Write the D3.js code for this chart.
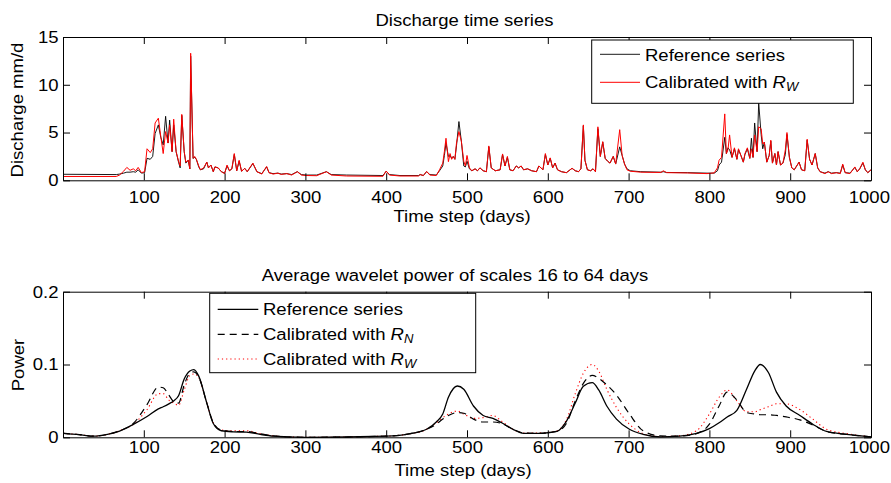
<!DOCTYPE html>
<html>
<head>
<meta charset="utf-8">
<script src="https://cdn.jsdelivr.net/npm/d3@7"></script>
<style>
  body { margin: 0; background: #fff; }
  svg { font-family: "Liberation Sans", Arial, sans-serif; }
</style>
</head>
<body>
<div id="chart"></div>
<script>
// discharge series (mm/d)
var qDays = [0, 66, 70, 75, 79, 83, 87, 90, 93, 97,
  101, 104, 108, 111, 114, 118, 121, 124, 127, 130,
  132, 135, 137, 140, 143, 145, 147, 150, 152, 155,
  157, 158, 161, 163, 165, 168, 170, 174, 178, 180,
  183, 186, 188, 192, 196, 200, 203, 206, 209, 212,
  215, 218, 221, 225, 228, 235, 240, 246, 252, 255,
  260, 266, 270, 277, 283, 290, 295, 301, 314, 326,
  332, 351, 396, 400, 404, 417, 440, 442, 446, 450,
  454, 462, 466, 470, 472, 474, 477, 479, 481, 483,
  485, 487, 490, 493, 496, 498, 500, 503, 506, 510,
  513, 516, 520, 524, 527, 530, 535, 541, 544, 547,
  550, 553, 557, 561, 564, 567, 570, 575, 580, 586,
  589, 594, 597, 600, 603, 606, 609, 612, 617, 623,
  630, 634, 638, 641, 644, 646, 649, 653, 656, 659,
  662, 665, 668, 671, 674, 677, 681, 684, 689, 692,
  695, 698, 702, 715, 740, 743, 747, 773, 797, 806,
  810, 812, 815, 819, 821, 823, 825, 828, 831, 834,
  836, 839, 842, 844, 847, 850, 852, 854, 856, 859,
  861, 864, 866, 868, 871, 874, 876, 878, 881, 883,
  885, 888, 891, 894, 896, 899, 902, 905, 911, 914,
  918, 921, 924, 927, 931, 934, 937, 943, 947, 951,
  957, 962, 965, 968, 974, 980, 983, 986, 990, 993,
  996, 1000];

var qRef = [.63, .60, .65, .75, .85, .85, .9, .85, 1.1, .75,
  .8, 2.3, 2.2, 2.5, 4.9, 5.8, 4.5, 3.7, 6.7, 3.9,
  6.3, 3.0, 5.8, 3.0, 1.9, 1.3, 6.8, 3.0, 1.8, 2.1,
  1.2, 13.0, 2.3, 2.4, 2.2, 1.4, 1.1, 1.2, 1.9, 1.3,
  1.6, .9, 1.4, 1.3, .9, .75, 1.5, 1.0, 1.2, 2.7,
  1.0, 2.0, .95, 1.25, .9, 1.75, .9, .7, 1.4, .8,
  .7, .75, .65, .7, .6, .9, .6, .55, .55, .9,
  .6, .55, .5, .95, .6, .5, .5, .6, .5, .9,
  .6, .55, 1.0, 1.5, 2.6, 3.9, 2.5, 2.6, 2.3, 2.5,
  2.2, 3.6, 6.15, 4.1, 1.5, 1.4, 2.0, 1.2, 1.0, 1.2,
  1.0, 1.3, 1.0, .9, 3.5, 1.3, 1.0, 1.1, 2.7, 1.5,
  2.4, 1.1, 1.0, 1.5, 1.3, 1.5, 1.1, 1.2, 1.0, .9,
  1.5, 1.1, 2.7, 1.6, 2.3, 1.3, 1.8, 1.1, .9, .8,
  1.25, 1.0, .9, 1.2, 5.7, 2.1, 1.1, 1.0, 1.2, .9,
  5.4, 2.5, 4.0, 2.3, 2.0, 1.8, 2.5, 1.7, 3.5, 2.6,
  1.7, 1.2, 1.0, .9, .85, .9, .82, .8, .75, .75,
  1.0, 1.6, 1.9, 4.5, 2.8, 3.4, 3.2, 2.4, 3.3, 2.2,
  3.2, 2.6, 1.9, 2.7, 3.3, 2.3, 4.4, 2.4, 6.0, 3.0,
  8.1, 4.8, 3.3, 4.0, 1.9, 2.6, 4.1, 1.8, 2.8, 1.6,
  3.0, 1.6, 1.8, 2.7, 4.8, 2.4, 1.3, 1.1, 1.9, 1.1,
  1.0, 4.2, 2.2, 1.6, 2.8, 1.3, .9, .75, .9, .75,
  .8, .75, 1.6, .8, .75, 1.35, .9, 1.2, 1.8, 1.1,
  .8, 1.1];

var qCal = [.40, .40, .55, .95, 1.35, 1.05, 1.2, 1.0, 1.35, .8,
  .9, 3.3, 2.9, 3.3, 6.0, 6.5, 4.6, 2.8, 5.1, 3.9,
  5.8, 3.0, 6.4, 3.0, 2.0, 1.5, 6.9, 3.0, 1.9, 2.1,
  1.2, 13.3, 2.3, 2.5, 2.2, 1.5, 1.1, 1.3, 1.9, 1.3,
  1.6, .9, 1.4, 1.3, .9, .7, 1.6, 1.0, 1.2, 2.8,
  1.0, 2.1, .95, 1.25, .9, 1.8, .9, .65, 1.45, .8,
  .65, .75, .62, .7, .55, .9, .55, .5, .48, .9,
  .55, .45, .42, .97, .55, .45, .45, .6, .5, .93,
  .55, .5, 1.1, 1.8, 3.0, 4.4, 1.95, 2.8, 2.2, 2.5,
  2.2, 3.9, 5.1, 4.1, 2.0, 1.5, 2.6, 1.3, 1.0, 1.2,
  1.0, 1.3, 1.0, .9, 3.6, 1.3, 1.0, 1.1, 2.76, 1.5,
  2.5, 1.1, 1.0, 1.5, 1.3, 1.5, 1.1, 1.2, 1.0, .9,
  1.5, 1.1, 2.8, 1.6, 2.35, 1.3, 1.8, 1.1, .9, .8,
  1.26, 1.0, .9, 1.2, 5.8, 2.1, 1.1, 1.0, 1.2, .9,
  5.6, 2.5, 4.05, 2.3, 2.0, 1.8, 2.5, 1.7, 5.3, 2.6,
  1.7, 1.1, .95, .85, .82, 1.0, .8, .77, .7, .78,
  1.3, 2.1, 2.4, 6.95, 2.8, 3.2, 4.75, 2.4, 3.4, 2.2,
  3.3, 2.6, 1.9, 2.8, 3.4, 2.3, 3.3, 2.4, 4.75, 3.0,
  5.6, 5.4, 3.8, 4.0, 1.9, 2.6, 4.2, 1.8, 2.8, 1.6,
  3.0, 1.6, 1.8, 3.2, 5.0, 2.4, 1.3, 1.1, 1.9, 1.1,
  1.0, 4.3, 2.2, 1.6, 2.8, 1.3, .9, .7, .9, .7,
  .8, .7, 1.7, .8, .7, 1.4, .9, 1.2, 1.9, 1.1,
  .8, 1.1];

// average wavelet power, scales 16-64 days
var pDays = [0, 20, 38, 55, 70, 87, 104, 118, 124, 131,
  137, 143, 150, 157, 162, 168, 178, 186, 196, 211,
  227, 244, 260, 277, 300, 400, 430, 450, 462, 470,
  477, 488, 496, 508, 520, 532, 543, 557, 570, 590,
  611, 623, 634, 644, 655, 663, 673, 685, 701, 718,
  739, 763, 784, 800, 812, 822, 834, 846, 856, 863,
  873, 883, 895, 912, 928, 945, 970, 1000];

var pRef = [.0055, .0037, .0016, .004, .0085, .0177, .0285, .039, .042, .046,
  .050, .057, .080, .091, .093, .084, .047, .019, .009, .0075,
  .007, .004, .0016, .0006, 0, .0016, .005, .011, .021, .032,
  .055, .0705, .066, .043, .030, .026, .020, .011, .0055, .0055,
  .008, .022, .047, .070, .075, .065, .043, .025, .011, .004,
  .0006, .0016, .0055, .012, .020, .028, .037, .066, .091, .100,
  .089, .062, .043, .030, .018, .008, .004, .0006];

var pRN = [.0055, .0037, .0016, .004, .009, .019, .045, .069, .068, .058,
  .049, .047, .072, .088, .090, .083, .047, .020, .010, .008,
  .008, .005, .002, .0006, 0, .0016, .005, .011, .018, .025,
  .030, .034, .033, .025, .021, .021, .019, .011, .006, .0055,
  .008, .019, .050, .074, .085, .081, .072, .058, .032, .009,
  .002, .0016, .005, .018, .043, .062, .051, .034, .032, .031,
  .031, .030, .028, .024, .017, .008, .004, .0006];

var pRW = [.0055, .0037, .0016, .004, .009, .018, .038, .060, .060, .051,
  .047, .044, .065, .085, .087, .082, .047, .020, .010, .009,
  .009, .005, .002, .0006, 0, .0016, .005, .011, .020, .027,
  .032, .036, .032, .026, .027, .030, .022, .011, .006, .006,
  .009, .024, .060, .088, .100, .091, .066, .041, .018, .005,
  .001, .002, .009, .032, .055, .065, .050, .035, .035, .038,
  .042, .046, .046, .038, .025, .011, .005, .0006];

var xTicks = [100, 200, 300, 400, 500, 600, 700, 800, 900, 1000];
var qTicks = [0, 5, 10, 15];
var pTicks = [0, 0.1, 0.2];

var width = 891;
var height = 483;
var fontSize = 17;
var stretch = 1.09; // the figure font runs a bit wider than Arial

var svg = d3.select("#chart").append("svg")
  .attr("width", width)
  .attr("height", height);

var xScale = d3.scaleLinear().domain([0, 1000]).range([63, 871]);
var qScale = d3.scaleLinear().domain([0, 15]).range([180.3, 37]);
var pScale = d3.scaleLinear().domain([0, 0.2]).range([437.3, 291.7]);

function addText(x, y, str, anchor, rotate) {
  return svg.append("text")
    .attr("transform", "translate(" + x + "," + y + ")" + (rotate ? " rotate(-90)" : "") + " scale(" + stretch + ",1)")
    .attr("text-anchor", anchor || "middle")
    .attr("font-size", fontSize)
    .attr("fill", "#000")
    .text(str);
}

function styleAxis(g) {
  g.attr("font-family", null).attr("font-size", fontSize);
  g.select(".domain").attr("stroke", "#000").attr("stroke-width", 1);
  g.selectAll(".tick line").attr("stroke", "#000").attr("stroke-width", 1);
  g.selectAll(".tick text").attr("fill", "#000").attr("transform", "scale(" + stretch + ",1)");
}

function drawFrame(yScale, yTicks, yFmt, xPad) {
  var y0 = yScale.range()[0], y1 = yScale.range()[1];
  var bottom = svg.append("g")
    .attr("transform", "translate(0," + y0 + ")")
    .call(d3.axisBottom(xScale).tickValues(xTicks).tickSizeInner(-7).tickSizeOuter(0)
      .tickPadding(xPad).tickFormat(d3.format("d")))
    .call(styleAxis);
  // keep the last label inside the page
  bottom.selectAll(".tick text").filter(function (d) { return d === 1000; }).attr("x", -2);
  svg.append("g")
    .attr("transform", "translate(0," + y1 + ")")
    .call(d3.axisTop(xScale).tickValues(xTicks).tickSizeInner(-7).tickSizeOuter(0).tickFormat(""))
    .call(styleAxis);
  svg.append("g")
    .attr("transform", "translate(" + xScale.range()[0] + ",0)")
    .call(d3.axisLeft(yScale).tickValues(yTicks).tickSizeInner(-7).tickSizeOuter(0).tickPadding(4.1).tickFormat(yFmt))
    .call(styleAxis);
  svg.append("g")
    .attr("transform", "translate(" + xScale.range()[1] + ",0)")
    .call(d3.axisRight(yScale).tickValues(yTicks).tickSizeInner(-7).tickSizeOuter(0).tickFormat(""))
    .call(styleAxis);
}

function seriesLine(days, yScale, curve) {
  return d3.line()
    .x(function (d, i) { return xScale(days[i]); })
    .y(function (d) { return yScale(d); })
    .curve(curve || d3.curveLinear);
}

// label with italic R and a subscript
function legendLabel(x, y, sub) {
  var t = addText(x, y, "Calibrated with ", "start");
  t.append("tspan").attr("font-style", "italic").text("R");
  t.append("tspan").attr("font-style", "italic").attr("font-size", 12).attr("dy", 3).text(sub);
  return t;
}

/* ---------- top panel: discharge ---------- */
var qLine = seriesLine(qDays, qScale);
svg.append("path").datum(qRef)
  .attr("d", qLine).attr("fill", "none").attr("stroke", "#000").attr("stroke-width", 0.9);
svg.append("path").datum(qCal)
  .attr("d", qLine).attr("fill", "none").attr("stroke", "#ff0000").attr("stroke-width", 1);

drawFrame(qScale, qTicks, d3.format("d"), 11);

addText(464.5, 25.7, "Discharge time series");
addText(462, 221.5, "Time step (days)");
addText(23, 110, "Discharge mm/d", "middle", true);

var leg1 = svg.append("g");
leg1.append("rect").attr("x", 591.7).attr("y", 40).attr("width", 261.6).attr("height", 63.3)
  .attr("fill", "#fff").attr("stroke", "#000").attr("stroke-width", 1);
leg1.append("line").attr("x1", 600).attr("x2", 640).attr("y1", 54.3).attr("y2", 54.3)
  .attr("stroke", "#000").attr("stroke-width", 0.9);
leg1.append("line").attr("x1", 600).attr("x2", 640).attr("y1", 82.3).attr("y2", 82.3)
  .attr("stroke", "#ff0000").attr("stroke-width", 1);
addText(645, 60.5, "Reference series", "start");
legendLabel(645, 88.3, "W");

/* ---------- bottom panel: wavelet power ---------- */
var pLine = seriesLine(pDays, pScale, d3.curveMonotoneX);
svg.append("path").datum(pRW)
  .attr("d", pLine).attr("fill", "none").attr("stroke", "#ff0000").attr("stroke-width", 1.1)
  .attr("stroke-dasharray", "1.2,3");
svg.append("path").datum(pRN)
  .attr("d", pLine).attr("fill", "none").attr("stroke", "#000").attr("stroke-width", 1.2)
  .attr("stroke-dasharray", "7,5");
svg.append("path").datum(pRef)
  .attr("d", pLine).attr("fill", "none").attr("stroke", "#000").attr("stroke-width", 1.3);

drawFrame(pScale, pTicks, function (d) { return d === 0 ? "0" : d3.format(".1f")(d); }, 3.3);

addText(455, 280.7, "Average wavelet power of scales 16 to 64 days");
addText(463, 476, "Time step (days)");
addText(23.5, 365, "Power", "middle", true);

var leg2 = svg.append("g");
leg2.append("rect").attr("x", 209.7).attr("y", 293.3).attr("width", 266).attr("height", 79.4)
  .attr("fill", "#fff").attr("stroke", "#000").attr("stroke-width", 1);
leg2.append("line").attr("x1", 217.7).attr("x2", 258.3).attr("y1", 309.3).attr("y2", 309.3)
  .attr("stroke", "#000").attr("stroke-width", 1.3);
leg2.append("line").attr("x1", 217.7).attr("x2", 258.3).attr("y1", 334.3).attr("y2", 334.3)
  .attr("stroke", "#000").attr("stroke-width", 1.2).attr("stroke-dasharray", "7,5");
leg2.append("line").attr("x1", 217.7).attr("x2", 258.3).attr("y1", 359).attr("y2", 359)
  .attr("stroke", "#ff0000").attr("stroke-width", 1.1).attr("stroke-dasharray", "1.2,3");
addText(263, 315.3, "Reference series", "start");
legendLabel(263, 340.3, "N");
legendLabel(263, 365, "W");
</script>
</body>
</html>
